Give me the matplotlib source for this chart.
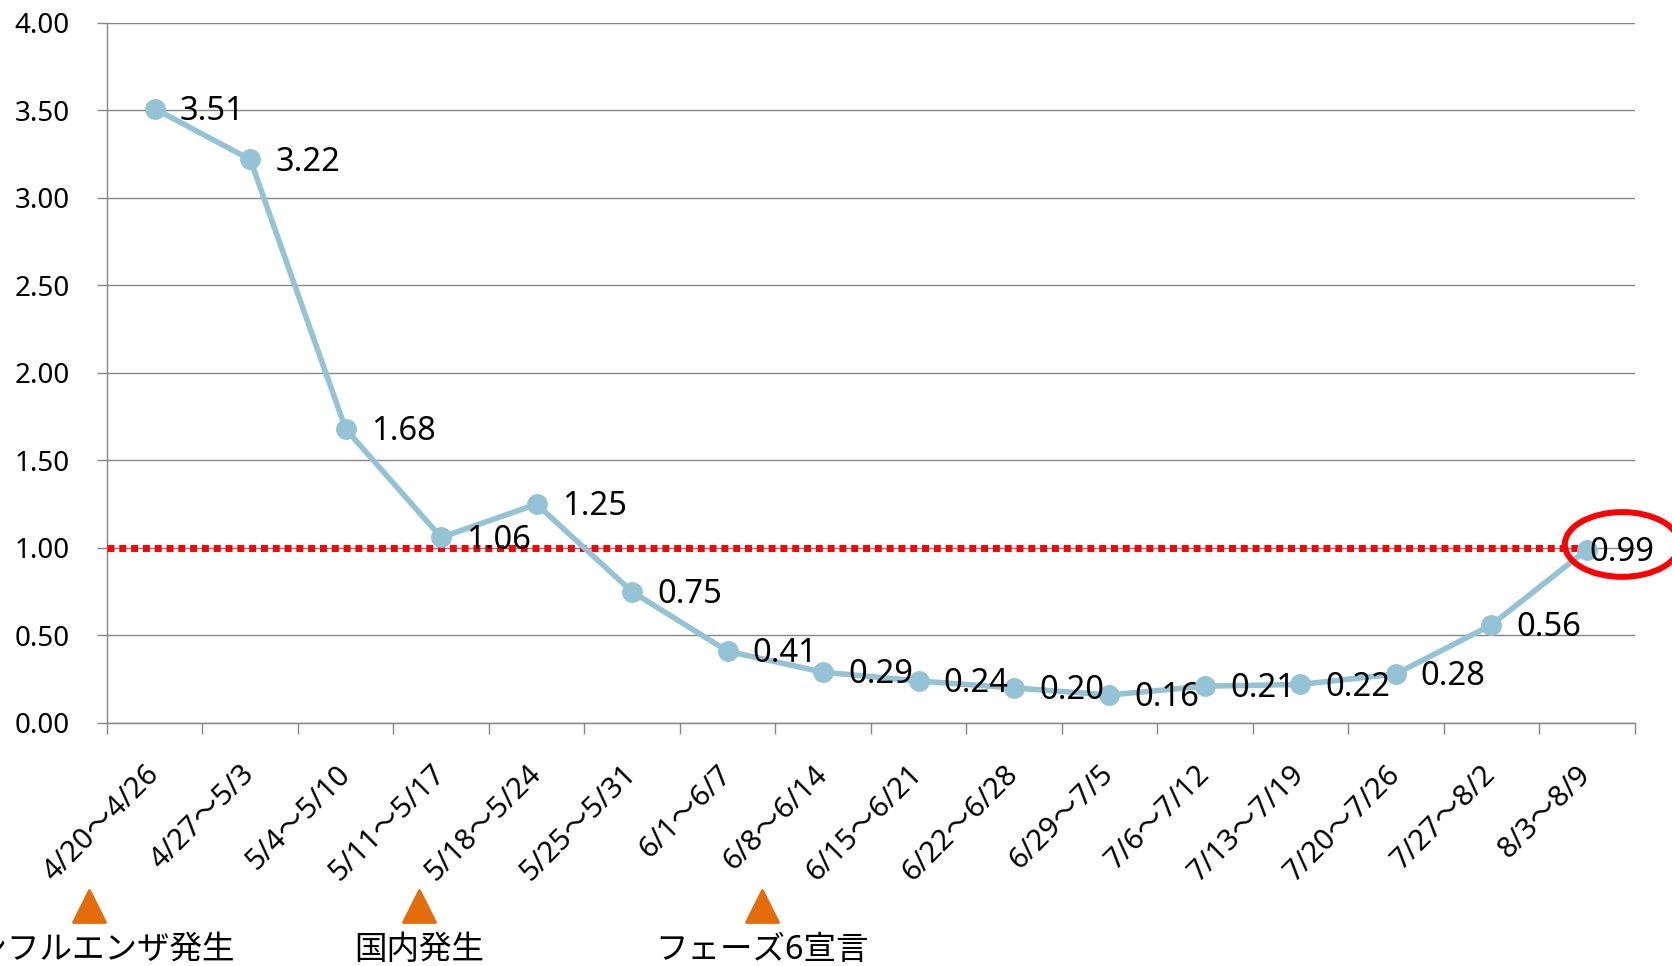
import matplotlib.pyplot as plt
from matplotlib.markers import MarkerStyle
from matplotlib.patches import Ellipse

plt.rcParams['font.family'] = ['Noto Sans', 'Noto Sans CJK JP', 'DejaVu Sans']

weeks = ['4/20〜4/26', '4/27〜5/3', '5/4〜5/10', '5/11〜5/17', '5/18〜5/24',
         '5/25〜5/31', '6/1〜6/7', '6/8〜6/14', '6/15〜6/21', '6/22〜6/28',
         '6/29〜7/5', '7/6〜7/12', '7/13〜7/19', '7/20〜7/26', '7/27〜8/2',
         '8/3〜8/9']
values = [3.51, 3.22, 1.68, 1.06, 1.25, 0.75, 0.41, 0.29, 0.24, 0.20,
          0.16, 0.21, 0.22, 0.28, 0.56, 0.99]
y_ticks = [0, 0.5, 1.0, 1.5, 2.0, 2.5, 3.0, 3.5, 4.0]
ref_level = 1.0

# events marked under the axis (x in category units)
event_x = [-0.69, 2.77, 6.36]
event_text = ['新型インフルエンザ発生', '国内発生', 'フェーズ6宣言']
text_shift = [-0.35, 0, 0]

line_col = '#93C3D5'
grid_col = '#868686'
orange = '#E46C0A'

fig = plt.figure(figsize=(16.72, 9.66), dpi=100)
ax = fig.add_axes([0.064, 0.2516, 0.9136, 0.7246])

x = list(range(len(values)))
ax.plot(x, values, color=line_col, lw=4, marker='o', ms=14, zorder=4)

for i, v in enumerate(values):
    off = 18 if i < len(values) - 1 else 2
    ax.annotate(f'{v:.2f}', (i, v), xytext=(off, -2), textcoords='offset points',
                ha='left', va='center', fontsize=23.5, zorder=5)

# red dotted threshold line up to last point
ax.plot([-0.5, x[-1]], [ref_level, ref_level], color='red', lw=5,
        ls=(0, (1, 0.7)), dash_capstyle='butt', zorder=3)
ax.add_patch(Ellipse((x[-1] + 0.37, values[-1] + 0.03), 1.2, 0.37,
                     fill=False, ec='red', lw=4.3, clip_on=False, zorder=6))

ax.set_xlim(-0.5, len(values) - 0.5)
ax.set_ylim(0, 4)
ax.set_yticks(y_ticks)
ax.set_yticklabels([f'{t:.2f}' for t in y_ticks], fontsize=20)
ax.yaxis.grid(True, color=grid_col, lw=1)
ax.set_axisbelow(True)

ax.set_xticks(x)
ax.set_xticklabels(weeks, fontsize=21, rotation=45, ha='right',
                   va='center', rotation_mode='anchor')
ax.set_xticks([i - 0.5 for i in range(len(values) + 1)], minor=True)
ax.tick_params(axis='x', which='major', length=0, pad=34)
ax.tick_params(axis='x', which='minor', length=8, width=1, color=grid_col)
ax.tick_params(axis='y', length=7, width=1, color=grid_col, pad=20)

for s in ['top', 'right']:
    ax.spines[s].set_visible(False)
for s in ['left', 'bottom']:
    ax.spines[s].set_color(grid_col)
    ax.spines[s].set_linewidth(1)

trans = ax.get_xaxis_transform()
tri = MarkerStyle('^', joinstyle='round')
ax.plot(event_x, [-0.261] * len(event_x), ls='none', marker=tri, ms=23,
        color=orange, mec=orange, mew=2, transform=trans, clip_on=False)
for ex, dx, t in zip(event_x, text_shift, event_text):
    ax.text(ex + dx, -0.325, t, transform=trans, ha='center', va='center',
            fontsize=23.4, clip_on=False)

fig.savefig('out.png', dpi=100)
